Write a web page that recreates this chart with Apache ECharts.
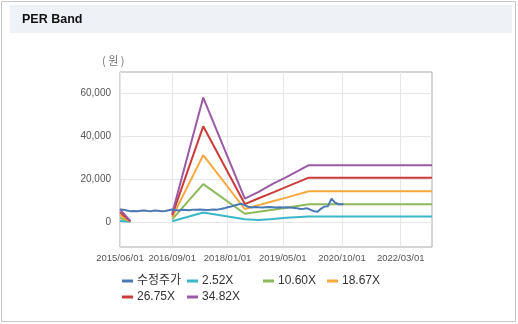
<!DOCTYPE html>
<html>
<head>
<meta charset="utf-8">
<script src="https://cdn.jsdelivr.net/npm/echarts@6/dist/echarts.min.js"></script>
<style>
html,body{margin:0;padding:0;background:#fff;}
#chart{width:518px;height:324px;}
</style>
</head>
<body>
<div id="chart"></div>
<script>
// ---- data ----
const seriesNames = ['수정주가', '2.52X', '10.60X', '18.67X', '26.75X', '34.82X'];
const xTickLabels = ['2015/06/01', '2016/09/01', '2018/01/01', '2019/05/01', '2020/10/01', '2022/03/01'];
const yTickValues = [0, 20000, 40000, 60000];

const priceDates = [
  '2015/06/01','2015/07/01','2015/08/01','2015/09/01','2015/10/01','2015/11/01','2015/12/01',
  '2016/01/01','2016/02/01','2016/03/01','2016/04/01','2016/05/01','2016/06/01','2016/07/01','2016/08/01','2016/09/01','2016/10/01','2016/11/01','2016/12/01',
  '2017/01/01','2017/02/01','2017/03/01','2017/04/01','2017/05/01','2017/06/01','2017/07/01','2017/08/01','2017/09/01','2017/10/01','2017/11/01','2017/12/01',
  '2018/01/01','2018/02/01','2018/03/01','2018/04/01','2018/05/01','2018/06/01','2018/07/01','2018/08/01','2018/09/01','2018/10/01','2018/11/01','2018/12/01',
  '2019/01/01','2019/02/01','2019/03/01','2019/04/01','2019/05/01','2019/06/01','2019/07/01','2019/08/01','2019/09/01','2019/10/01','2019/11/01','2019/12/01',
  '2020/01/01','2020/02/01','2020/03/01','2020/04/01','2020/05/01','2020/06/01','2020/07/01','2020/08/01','2020/09/01','2020/10/15'
];
const priceValues = [
  5800,5700,5300,5000,5100,4900,5200,
  5300,5100,5000,5300,5200,5000,5100,5400,5800,5500,5300,5600,
  5500,5400,5700,5600,5800,5700,5500,5600,5800,5700,6000,6300,
  6800,7200,7600,8100,8400,7800,7000,6700,6900,6800,6700,6800,
  6900,6800,6700,6800,6700,6800,6700,6600,6400,6000,6100,6300,
  5600,4900,4700,6200,7100,7300,10800,9000,8200,8200
];

const bandDates = ['2015/06/01','2015/09/01','2016/03/01','2016/09/01','2017/06/01','2018/06/01','2018/10/01','2019/02/01','2019/06/01','2019/12/15','2022/12/01'];
const band252  = [420,  25, null,  300,  4400,  1200,   900,  1300,  1900,  2500,  2500];
const band1060 = [1800, 110, null, 1200, 17600,  3800,  4700,  5700,  6600,  8200,  8200];
const band1867 = [3100, 190, null, 2100, 31100,  6000,  7800,  9600, 11300, 14300, 14300];
const band2675 = [4500, 270, null, 3000, 44500,  8300, 11000, 13600, 16300, 20600, 20600];
const band3482 = [5800, 350, null, 3800, 57900, 10800, 14000, 17700, 20800, 26400, 26400];

// ---- build ----
const colors = ['#4a78b4', '#3bb6c9', '#8cb95a', '#f5a83c', '#cc3a3a', '#9a5aa5'];
function ts(s){ const p = s.split('/'); return Date.UTC(+p[0], +p[1]-1, +p[2]); }
function pad(n){ return (n<10?'0':'') + n; }
function fmtDate(v){ const d = new Date(v); return d.getUTCFullYear()+'/'+pad(d.getUTCMonth()+1)+'/'+pad(d.getUTCDate()); }
function pairs(dates, vals){ return dates.map((d,i)=>[ts(d), vals[i]==null?'-':vals[i]]); }

const xTickTs = xTickLabels.map(ts);
const bands = [band252, band1060, band1867, band2675, band3482];

const font = '"Liberation Sans", Arial, "Noto Sans CJK KR", sans-serif';

const series = [];
bands.forEach((b,i)=>{
  series.push({
    name: seriesNames[i+1], type: 'line', data: pairs(bandDates, b),
    showSymbol: false, symbol: 'none', connectNulls: false,
    lineStyle: {width: 2, color: colors[i+1]}, itemStyle: {color: colors[i+1]},
    z: 2 + i, animation: false
  });
});
series.push({
  name: seriesNames[0], type: 'line', data: pairs(priceDates, priceValues),
  showSymbol: false, symbol: 'none',
  lineStyle: {width: 2, color: colors[0]}, itemStyle: {color: colors[0]},
  z: 10, animation: false
});

const legendPos = [[122,275],[187,275],[263,275],[327,275],[122,291],[187,291]];
const legends = seriesNames.map((n,i)=>({
  data: [n], left: legendPos[i][0], top: legendPos[i][1], padding: 0,
  icon: 'rect', itemWidth: 11, itemHeight: 3, itemGap: 0,
  textStyle: {fontSize: 12, color: '#333', fontFamily: font, padding: [0,0,0,-1]},
  selectedMode: false
}));

const chart = echarts.init(document.getElementById('chart'), null, {renderer: 'canvas'});
chart.setOption({
  animation: false,
  backgroundColor: '#ffffff',
  color: colors,
  graphic: [
    {type: 'rect', shape: {x: 1.5, y: 1.5, width: 514, height: 320}, style: {fill: 'none', stroke: '#c6c6c6', lineWidth: 1}, silent: true},
    {type: 'rect', shape: {x: 10, y: 5, width: 502, height: 28}, style: {fill: '#eef1f6'}, silent: true},
    {type: 'text', x: 22, y: 20, style: {text: 'PER Band', font: 'bold 12.5px ' + font, fill: '#111', textVerticalAlign: 'middle'}, silent: true},
    {type: 'text', x: 102, y: 61, style: {text: '( 원 )', font: '11px "Noto Sans CJK KR", sans-serif', fill: '#777', textVerticalAlign: 'middle'}, silent: true}
  ],
  grid: {left: 120, top: 72, width: 312, height: 175, show: true, borderColor: '#a9a9a9', borderWidth: 1, backgroundColor: 'transparent'},
  xAxis: {
    type: 'value', min: ts('2015/06/01'), max: ts('2022/12/01'),
    axisLine: {show: false},
    axisTick: {show: false, customValues: xTickTs},
    axisLabel: {customValues: xTickTs, formatter: fmtDate, fontSize: 9.5, color: '#555', fontFamily: font, margin: 7, showMinLabel: true, showMaxLabel: true},
    splitLine: {show: true, lineStyle: {color: '#e6e6e6', width: 1}}
  },
  yAxis: {
    type: 'value', min: -11700, max: 69800,
    axisLine: {show: false},
    axisTick: {show: false, customValues: yTickValues},
    axisLabel: {customValues: yTickValues, formatter: v => v.toLocaleString('en-US'), fontSize: 10, color: '#555', fontFamily: font, margin: 9},
    splitLine: {show: true, lineStyle: {color: '#e6e6e6', width: 1}}
  },
  legend: legends,
  tooltip: {show: false},
  series: series
});
</script>
</body>
</html>
